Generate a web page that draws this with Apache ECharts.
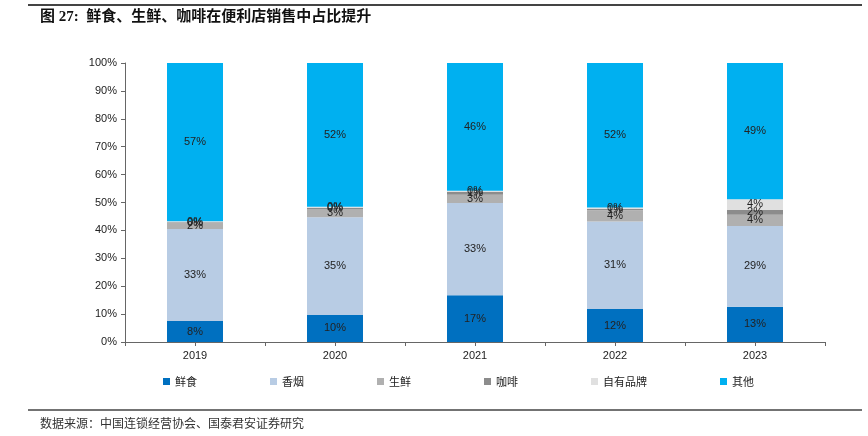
<!DOCTYPE html>
<html><head><meta charset="utf-8">
<script src="https://cdn.jsdelivr.net/npm/echarts@6/dist/echarts.min.js"></script>
<style>html,body{margin:0;padding:0;background:#fff}#c{width:868px;height:436px}</style>
</head><body><div id="c"></div>
<script>
const categories = ['2019','2020','2021','2022','2023'];
const seriesNames = ['鲜食','香烟','生鲜','咖啡','自有品牌','其他'];
const xianshi   = [7.5, 9.7, 16.8, 11.8, 12.6];
const xiangyan  = [33.0, 35.0, 33.0, 31.4, 29.0];
const shengxian = [2.0, 3.0, 3.0, 4.0, 4.0];
const kafei     = [0.4, 0.4, 1.0, 0.6, 1.8];
const ziyou     = [0.4, 0.4, 0.4, 0.4, 3.8];
const qita      = [56.7, 51.5, 45.8, 51.8, 48.8];
const yTicks = ['0%','10%','20%','30%','40%','50%','60%','70%','80%','90%','100%'];
const colors = ['#0070C0','#B8CCE4','#B0B0B0','#8C8C8C','#E0E0E0','#00B0F0'];
const values = [xianshi, xiangyan, shengxian, kafei, ziyou, qita];

const chart = echarts.init(document.getElementById('c'));
const labelFont = 'Liberation Sans, Arial, sans-serif';
chart.setOption({
  animation: false,
  color: colors,
  grid: {left: 125, right: 43, top: 63, bottom: 94},
  legend: {
    left: 158, top: 371, itemWidth: 7, itemHeight: 7, itemGap: 73,
    icon: 'rect',
    textStyle: {fontSize: 11, color: '#222', fontFamily: 'Noto Sans CJK SC'},
    data: seriesNames
  },
  xAxis: [{
    type: 'category', data: categories,
    axisLine: {lineStyle: {color: '#666', width: 1}},
    axisTick: {show: true, length: 4, lineStyle: {color: '#666'}},
    axisLabel: {fontSize: 11, color: '#222', fontFamily: labelFont, margin: 8}
  },{
    type: 'category', data: categories, position: 'bottom',
    axisLine: {show: false},
    axisTick: {show: true, alignWithLabel: true, length: 4, lineStyle: {color: '#666'}},
    axisLabel: {show: false}
  }],
  yAxis: {
    type: 'value', min: 0, max: 100, interval: 10,
    splitLine: {show: false},
    axisLine: {show: true, lineStyle: {color: '#666'}},
    axisTick: {show: true, length: 4, lineStyle: {color: '#666'}},
    axisLabel: {fontSize: 11, color: '#222', fontFamily: labelFont, margin: 8,
      formatter: function(v){ return yTicks[Math.round(v/10)]; }}
  },
  graphic: [
    {type: 'line', shape: {x1: 28, y1: 5, x2: 862, y2: 5}, style: {stroke: '#444', lineWidth: 2}},
    {type: 'text', left: 40, top: 10, style: {text: '图 27:  鲜食、生鲜、咖啡在便利店销售中占比提升', font: 'bold 15px "Liberation Serif", "Noto Sans CJK SC"', fill: '#111'}},
    {type: 'line', shape: {x1: 28, y1: 410, x2: 862, y2: 410}, style: {stroke: '#444', lineWidth: 1.5}},
    {type: 'text', left: 40, top: 417, style: {text: '数据来源：中国连锁经营协会、国泰君安证券研究', font: '12px "Noto Sans CJK SC"', fill: '#333'}}
  ],
  series: seriesNames.map(function(n, i){
    return {
      name: n, type: 'bar', stack: 'total', barWidth: 56,
      data: values[i],
      label: {show: true, position: 'inside', fontSize: 11, color: '#222', fontFamily: labelFont,
        formatter: function(p){ return Math.round(p.value) + '%'; }}
    };
  })
});
</script></body></html>
